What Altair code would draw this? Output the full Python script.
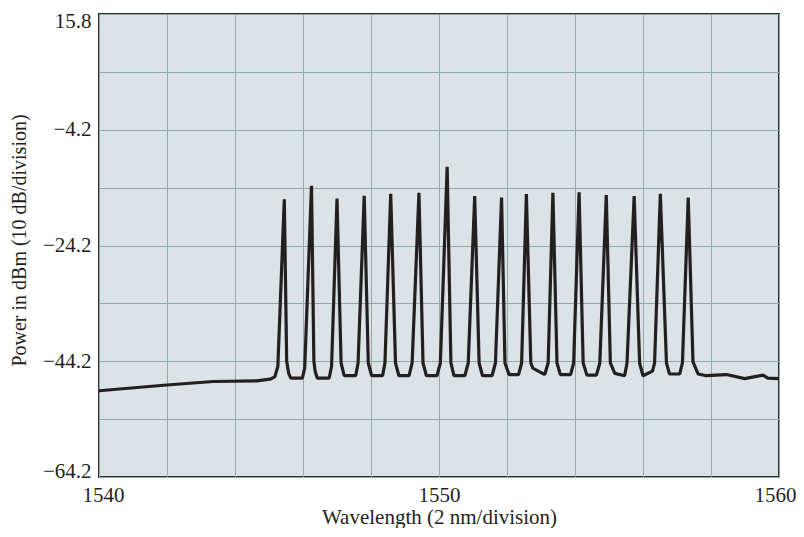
import altair as alt
import pandas as pd

# Trace (wavelength in nm, power in dBm)
wavelength_nm = [
    1540.00, 1541.99, 1543.36, 1544.64, 1545.03, 1545.17, 1545.26,
    1545.45, 1545.52, 1545.58, 1545.64, 1545.98, 1546.05,
    1546.25, 1546.32, 1546.36, 1546.42, 1546.77, 1546.84,
    1547.00, 1547.12, 1547.21, 1547.55, 1547.62,
    1547.80, 1547.92, 1548.02, 1548.34, 1548.41,
    1548.58, 1548.72, 1548.82, 1549.12, 1549.21,
    1549.41, 1549.53, 1549.63, 1549.94, 1550.04,
    1550.24, 1550.35, 1550.44, 1550.76, 1550.86,
    1551.05, 1551.18, 1551.28, 1551.56, 1551.66,
    1551.84, 1551.94, 1552.06, 1552.34, 1552.43,
    1552.57, 1552.70, 1552.76, 1553.11, 1553.21,
    1553.35, 1553.47, 1553.57, 1553.87, 1553.96,
    1554.12, 1554.24, 1554.35, 1554.63, 1554.73,
    1554.92, 1555.04, 1555.17, 1555.46, 1555.53,
    1555.74, 1555.90, 1556.00, 1556.28, 1556.34,
    1556.51, 1556.69, 1556.78, 1557.08, 1557.16,
    1557.33, 1557.47, 1557.62, 1557.86, 1558.45,
    1558.99, 1559.53, 1559.67, 1560.00,
]
power_dbm = [
    -49.3, -48.3, -47.7, -47.6, -47.3, -46.9, -45.1,
    -16.2, -44.2, -46.3, -47.1, -47.1, -45.4,
    -13.9, -44.2, -46.0, -47.1, -47.1, -45.1,
    -16.1, -44.5, -46.7, -46.7, -44.5,
    -15.6, -44.5, -46.7, -46.7, -44.5,
    -15.25, -44.5, -46.7, -46.7, -44.5,
    -15.1, -44.5, -46.7, -46.7, -44.5,
    -10.6, -44.5, -46.7, -46.7, -44.5,
    -15.65, -44.5, -46.7, -46.7, -44.5,
    -15.9, -44.5, -46.5, -46.5, -44.5,
    -15.3, -44.5, -45.4, -46.5, -44.5,
    -15.1, -44.5, -46.5, -46.5, -44.5,
    -15.0, -44.5, -46.6, -46.6, -44.5,
    -15.5, -44.5, -46.3, -46.7, -44.5,
    -15.65, -44.5, -46.7, -45.9, -44.5,
    -15.25, -44.5, -46.4, -46.4, -44.5,
    -15.9, -44.3, -46.4, -46.7, -46.5,
    -47.2, -46.6, -47.1, -47.2,
]

x_ticks = [1540, 1542, 1544, 1546, 1548, 1550, 1552, 1554, 1556, 1558, 1560]
y_ticks = [-64.2, -54.2, -44.2, -34.2, -24.2, -14.2, -4.2, 5.8, 15.8]

df = pd.DataFrame({"wl": wavelength_nm, "p": power_dbm})

chart = alt.Chart(df).mark_line(
    color="#231f20", strokeWidth=3.2, strokeJoin="bevel", clip=True
).encode(
    x=alt.X(
        "wl:Q",
        scale=alt.Scale(domain=[1540, 1560], nice=False, zero=False),
        axis=alt.Axis(
            values=x_ticks,
            format="d",
            labelExpr="datum.value % 10 == 0 ? datum.label : ''",
            title="Wavelength (2 nm/division)",
            ticks=False,
            domain=False,
            labelPadding=7,
            labelFlush=True,
            labelFlushOffset=17,
            labelFontSize=21,
            titleFontSize=21,
            titleY=46,
            titleBaseline="alphabetic",
        ),
    ),
    y=alt.Y(
        "p:Q",
        scale=alt.Scale(domain=[-64.2, 15.8], nice=False, zero=False),
        axis=alt.Axis(
            values=y_ticks,
            format=".1f",
            labelExpr="abs(round((datum.value + 64.2) / 10)) % 2 == 0 ? datum.label : ''",
            title="Power in dBm (10 dB/division)",
            ticks=False,
            domain=False,
            labelPadding=8,
            labelFlush=True,
            labelFlushOffset=4,
            labelFontSize=21,
            titleFontSize=20,
            titleX=-80,
            titleY=226,
            titleBaseline="middle",
        ),
    ),
).properties(
    width=680,
    height=463,
    autosize=alt.AutoSizeParams(type="none"),
    padding={"left": 91, "top": 6, "right": 17, "bottom": 51},
).configure_view(
    fill="#dce3e6", stroke="#2e2e2e", strokeWidth=2
).configure_axis(
    grid=True,
    gridColor="#8fa9a6",
    gridWidth=1,
    gridOpacity=1,
    labelFont="Liberation Serif",
    titleFont="Liberation Serif",
    labelColor="#231f20",
    titleColor="#231f20",
    titleFontWeight="normal",
)

chart.save("out.html", embed_options={"renderer": "svg", "actions": False})
